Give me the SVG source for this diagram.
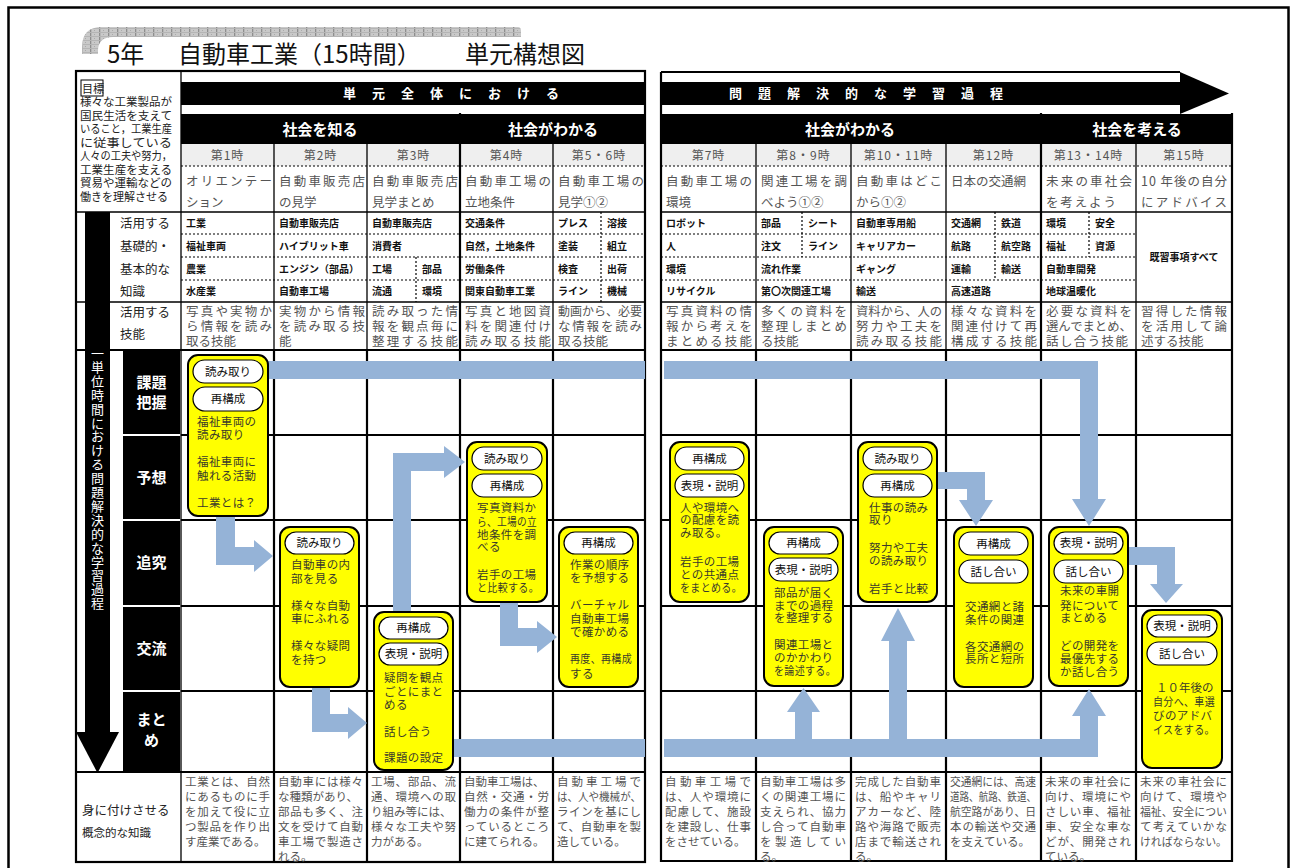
<svg xmlns="http://www.w3.org/2000/svg" width="1297" height="868" viewBox="0 0 1297 868">
<defs>
<pattern id="chk" width="9" height="4" patternUnits="userSpaceOnUse">
<rect width="9" height="4" fill="#c9c9c9"/>
<rect width="1.3" height="4" fill="#8e8e8e"/>
<rect x="4" y="2" width="1" height="1" fill="#aaa"/>
<rect width="9" height="1" fill="#b5b5b5"/>
</pattern>
<style>
text{font-family:"Noto Sans CJK JP","Noto Sans CJK SC",sans-serif;}
.t{font-size:24px;fill:#111}
.hb{font-size:13px;font-weight:bold;fill:#fff;letter-spacing:16px}
.ph{font-size:15px;font-weight:bold;fill:#fff;text-anchor:middle}
.ln{font-size:12px;fill:#555;text-anchor:middle;letter-spacing:1px}
.lt{font-size:12.5px;fill:#555}
.kn{font-size:10px;font-weight:bold;fill:#111}
.sk{font-size:12.5px;fill:#555}
.bt{font-size:11.5px;fill:#555}
.lb{font-size:12.5px;fill:#222}
.ob{font-size:11.5px;fill:#222}
.pr{font-size:15px;font-weight:bold;fill:#fff;text-anchor:middle}
.vt{font-size:13px;fill:#fff;text-anchor:middle}
.node{fill:#ffff00;stroke:#000;stroke-width:2}
.pill{fill:#fff;stroke:#000;stroke-width:1.2}
.pt{font-size:11.5px;fill:#111;text-anchor:middle}
.nt{font-size:11.5px;fill:#3a3a2a;letter-spacing:0.4px}
.g1{stroke:#000;stroke-width:1.3;fill:none}
.g2{stroke:#000;stroke-width:2.2;fill:none}
.dot{stroke:#000;stroke-width:1.2;stroke-dasharray:2 2;fill:none}
.arr{fill:#95b3d7}
</style>
</defs>
<rect width="1297" height="868" fill="#fff"/>
<rect x="8.5" y="7.5" width="1280" height="900" fill="none" stroke="#000" stroke-width="2.5"/>

<!-- title -->
<g id="title">
<path d="M82,54 L82,47 Q82,27 102,27 L518,27 Q521,27 521,31 L521,37 L113,37 Q98,37 98,51 L98,54 Z" fill="url(#chk)"/>
<text class="t" x="107" y="63">5年</text>
<text class="t" x="178" y="63">自動車工業（15時間）</text>
<text class="t" x="465" y="63">単元構想図</text>
</g>

<!-- table fills -->
<g id="table-fills">
<rect x="181" y="82" width="464" height="23" fill="#000"/>
<rect x="661" y="82" width="519" height="23" fill="#000"/>
<polygon points="1180,72 1229,93.5 1180,114" fill="#000"/>
<rect x="181" y="114" width="278" height="30" fill="#000"/>
<rect x="461" y="114" width="184" height="30" fill="#000"/>
<rect x="661" y="114" width="379" height="30" fill="#000"/>
<rect x="1042" y="114" width="190" height="30" fill="#000"/>
<rect x="181" y="144" width="464" height="22" fill="#efefef"/>
<rect x="661" y="144" width="571" height="22" fill="#efefef"/>
<rect x="85" y="212" width="25" height="521" fill="#000"/>
<polygon points="76,732 119,732 97.5,773" fill="#000"/>
<rect x="123" y="351" width="57" height="83" fill="#000"/>
<rect x="123" y="436" width="57" height="83" fill="#000"/>
<rect x="123" y="521" width="57" height="84" fill="#000"/>
<rect x="123" y="607" width="57" height="83" fill="#000"/>
<rect x="123" y="692" width="57" height="80" fill="#000"/>
</g>

<!-- grid lines -->
<g id="grid">
<rect x="76" y="71" width="569" height="791" class="g2"/>
<path class="g2" d="M661,72 H1180 M661,72 V861 H1232 V113"/>
<path class="g1" d="M181,71 V862 M76,212 H645 M76,302 H645 M661,212 H1232 M661,302 H1232"/>
<path class="g2" d="M76,350 H645 M76,772 H645 M661,350 H1232 M661,772 H1232"/>
<path class="g1" d="M274,144 V350 M367,144 V350 M553,144 V350 M756,144 V350 M851,144 V350 M946,144 V350 M1136,144 V350"/>
<path class="g2" d="M460,113 V862 M1041,113 V861 M274,350 V862 M367,350 V862 M553,350 V862 M756,350 V861 M851,350 V861 M946,350 V861 M1136,350 V861"/>
<path class="g2" d="M181,435 H645 M181,520 H645 M181,606 H645 M181,691 H645 M661,435 H1232 M661,520 H1232 M661,606 H1232 M661,691 H1232"/>
<path class="dot" d="M181,166 H645 M661,166 H1232 M181,234 H645 M181,257 H645 M181,280 H645 M661,234 H1136 M661,257 H1136 M661,280 H1136"/>
<path class="dot" d="M416,257 V302 M601,212 V302 M802,212 V257 M995,212 V280 M1089,212 V257"/>
</g>

<!-- left labels -->
<g id="labels">
<rect x="81" y="80" width="22" height="16" fill="none" stroke="#000" stroke-width="1"/>
<text class="ob" x="82" y="93" style="font-size:11px">目標</text>
<text class="ob" x="80" y="106" textLength="92" lengthAdjust="spacingAndGlyphs">様々な工業製品が</text>
<text class="ob" x="80" y="119.5" textLength="92" lengthAdjust="spacingAndGlyphs">国民生活を支えて</text>
<text class="ob" x="80" y="133" textLength="92" lengthAdjust="spacingAndGlyphs">いること，工業生産</text>
<text class="ob" x="80" y="146.5" textLength="92" lengthAdjust="spacingAndGlyphs">に従事している</text>
<text class="ob" x="80" y="160" textLength="92" lengthAdjust="spacingAndGlyphs">人々の工夫や努力，</text>
<text class="ob" x="80" y="173.5" textLength="92" lengthAdjust="spacingAndGlyphs">工業生産を支える</text>
<text class="ob" x="80" y="187" textLength="92" lengthAdjust="spacingAndGlyphs">貿易や運輸などの</text>
<text class="ob" x="80" y="200.5" textLength="88" lengthAdjust="spacingAndGlyphs">働きを理解させる</text>
<text class="lb" x="120" y="228">活用する</text>
<text class="lb" x="120" y="251">基礎的・</text>
<text class="lb" x="120" y="274">基本的な</text>
<text class="lb" x="120" y="296">知識</text>
<text class="lb" x="120" y="317">活用する</text>
<text class="lb" x="120" y="339">技能</text>
<text class="vt" x="97.5 97.5 97.5 97.5 97.5 97.5 97.5 97.5 97.5 97.5 97.5 97.5 97.5 97.5 97.5 97.5 97.5 97.5 97.5" y="358 371.9 385.8 399.7 413.6 427.5 441.4 455.3 469.2 483.1 497 510.9 524.8 538.7 552.6 566.5 580.4 594.3 608.2">一単位時間における問題解決的な学習過程</text>
<text class="pr" x="151.5" y="388">課題</text>
<text class="pr" x="151.5" y="408">把握</text>
<text class="pr" x="151.5" y="483">予想</text>
<text class="pr" x="151.5" y="568">追究</text>
<text class="pr" x="151.5" y="654">交流</text>
<text class="pr" x="151.5" y="725">まと</text>
<text class="pr" x="151.5" y="746">め</text>
<text class="lb" x="82" y="815">身に付けさせる</text>
<text class="lb" x="82" y="837" style="font-size:11.5px">概念的な知識</text>
</g>

<!-- headers -->
<g id="headers">
<text class="hb" x="343" y="98">単元全体における</text>
<text class="hb" x="729" y="98">問題解決的な学習過程</text>
<text class="ph" x="320" y="135">社会を知る</text>
<text class="ph" x="553" y="135">社会がわかる</text>
<text class="ph" x="850" y="135">社会がわかる</text>
<text class="ph" x="1137" y="135">社会を考える</text>
<text class="ln" x="227.5" y="160">第1時</text>
<text class="ln" x="320.5" y="160">第2時</text>
<text class="ln" x="413.5" y="160">第3時</text>
<text class="ln" x="506.5" y="160">第4時</text>
<text class="ln" x="599" y="160">第5・6時</text>
<text class="ln" x="708.5" y="160">第7時</text>
<text class="ln" x="803.5" y="160">第8・9時</text>
<text class="ln" x="898.5" y="160">第10・11時</text>
<text class="ln" x="993.5" y="160">第12時</text>
<text class="ln" x="1088.5" y="160">第13・14時</text>
<text class="ln" x="1184" y="160">第15時</text>
<text class="lt" x="186" y="186" textLength="86">オリエンテー</text>
<text class="lt" x="186" y="207">ション</text>
<text class="lt" x="279" y="186" textLength="86">自動車販売店</text>
<text class="lt" x="279" y="207">の見学</text>
<text class="lt" x="372" y="186" textLength="86">自動車販売店</text>
<text class="lt" x="372" y="207">見学まとめ</text>
<text class="lt" x="465" y="186" textLength="86">自動車工場の</text>
<text class="lt" x="465" y="207">立地条件</text>
<text class="lt" x="558" y="186" textLength="86">自動車工場の</text>
<text class="lt" x="558" y="207">見学①②</text>
<text class="lt" x="666" y="186" textLength="86">自動車工場の</text>
<text class="lt" x="666" y="207">環境</text>
<text class="lt" x="761" y="186" textLength="86">関連工場を調</text>
<text class="lt" x="761" y="207">べよう①②</text>
<text class="lt" x="856" y="186" textLength="86">自動車はどこ</text>
<text class="lt" x="856" y="207">から①②</text>
<text class="lt" x="951" y="186">日本の交通網</text>
<text class="lt" x="1046" y="186" textLength="86">未来の車社会</text>
<text class="lt" x="1046" y="207" textLength="70">を考えよう</text>
<text class="lt" x="1141" y="186" textLength="86">10 年後の自分</text>
<text class="lt" x="1141" y="207" textLength="86">にアドバイス</text>
</g>

<!-- knowledge -->
<g id="knowledge">
<text class="kn" x="186" y="227">工業</text>
<text class="kn" x="186" y="250">福祉車両</text>
<text class="kn" x="186" y="273">農業</text>
<text class="kn" x="186" y="295">水産業</text>
<text class="kn" x="279" y="227">自動車販売店</text>
<text class="kn" x="279" y="250">ハイブリット車</text>
<text class="kn" x="279" y="273">エンジン（部品）</text>
<text class="kn" x="279" y="295">自動車工場</text>
<text class="kn" x="372" y="227">自動車販売店</text>
<text class="kn" x="372" y="250">消費者</text>
<text class="kn" x="372" y="273">工場</text>
<text class="kn" x="422" y="273">部品</text>
<text class="kn" x="372" y="295">流通</text>
<text class="kn" x="422" y="295">環境</text>
<text class="kn" x="465" y="227">交通条件</text>
<text class="kn" x="465" y="250">自然，土地条件</text>
<text class="kn" x="465" y="273">労働条件</text>
<text class="kn" x="465" y="295">関東自動車工業</text>
<text class="kn" x="558" y="227">プレス</text>
<text class="kn" x="607" y="227">溶接</text>
<text class="kn" x="558" y="250">塗装</text>
<text class="kn" x="607" y="250">組立</text>
<text class="kn" x="558" y="273">検査</text>
<text class="kn" x="607" y="273">出荷</text>
<text class="kn" x="558" y="295">ライン</text>
<text class="kn" x="607" y="295">機械</text>
<text class="kn" x="666" y="227">ロボット</text>
<text class="kn" x="666" y="250">人</text>
<text class="kn" x="666" y="273">環境</text>
<text class="kn" x="666" y="295">リサイクル</text>
<text class="kn" x="761" y="227">部品</text>
<text class="kn" x="808" y="227">シート</text>
<text class="kn" x="761" y="250">注文</text>
<text class="kn" x="808" y="250">ライン</text>
<text class="kn" x="761" y="273">流れ作業</text>
<text class="kn" x="761" y="295">第〇次関連工場</text>
<text class="kn" x="856" y="227">自動車専用船</text>
<text class="kn" x="856" y="250">キャリアカー</text>
<text class="kn" x="856" y="273">ギャング</text>
<text class="kn" x="856" y="295">輸送</text>
<text class="kn" x="951" y="227">交通網</text>
<text class="kn" x="1001" y="227">鉄道</text>
<text class="kn" x="951" y="250">航路</text>
<text class="kn" x="1001" y="250">航空路</text>
<text class="kn" x="951" y="273">運輸</text>
<text class="kn" x="1001" y="273">輸送</text>
<text class="kn" x="951" y="295">高速道路</text>
<text class="kn" x="1046" y="227">環境</text>
<text class="kn" x="1095" y="227">安全</text>
<text class="kn" x="1046" y="250">福祉</text>
<text class="kn" x="1095" y="250">資源</text>
<text class="kn" x="1046" y="273">自動車開発</text>
<text class="kn" x="1046" y="295">地球温暖化</text>
<text class="kn" x="1184" y="261" text-anchor="middle">既習事項すべて</text>
</g>

<!-- skills -->
<g id="skills">
<text class="sk" x="186" y="316" textLength="86">写真や実物か</text>
<text class="sk" x="186" y="331" textLength="86">ら情報を読み</text>
<text class="sk" x="186" y="346">取る技能</text>
<text class="sk" x="279" y="316" textLength="86">実物から情報</text>
<text class="sk" x="279" y="331" textLength="86">を読み取る技</text>
<text class="sk" x="279" y="346">能</text>
<text class="sk" x="372" y="316" textLength="86">読み取った情</text>
<text class="sk" x="372" y="331" textLength="86">報を観点毎に</text>
<text class="sk" x="372" y="346" textLength="86">整理する技能</text>
<text class="sk" x="465" y="316" textLength="86">写真と地図資</text>
<text class="sk" x="465" y="331" textLength="86">料を関連付け</text>
<text class="sk" x="465" y="346" textLength="86">読み取る技能</text>
<text class="sk" x="558" y="316" textLength="84" lengthAdjust="spacingAndGlyphs">動画から、必要</text>
<text class="sk" x="558" y="331" textLength="84">な情報を読み</text>
<text class="sk" x="558" y="346">取る技能</text>
<text class="sk" x="666" y="316" textLength="86">写真資料の情</text>
<text class="sk" x="666" y="331" textLength="86">報から考えを</text>
<text class="sk" x="666" y="346" textLength="86">まとめる技能</text>
<text class="sk" x="761" y="316" textLength="86">多くの資料を</text>
<text class="sk" x="761" y="331" textLength="86">整理しまとめ</text>
<text class="sk" x="761" y="346">る技能</text>
<text class="sk" x="856" y="316" textLength="86" lengthAdjust="spacingAndGlyphs">資料から、人の</text>
<text class="sk" x="856" y="331" textLength="86">努力や工夫を</text>
<text class="sk" x="856" y="346" textLength="86">読み取る技能</text>
<text class="sk" x="951" y="316" textLength="86">様々な資料を</text>
<text class="sk" x="951" y="331" textLength="86">関連付けて再</text>
<text class="sk" x="951" y="346" textLength="86">構成する技能</text>
<text class="sk" x="1046" y="316" textLength="86">必要な資料を</text>
<text class="sk" x="1046" y="331" textLength="86" lengthAdjust="spacingAndGlyphs">選んでまとめ、</text>
<text class="sk" x="1046" y="346" textLength="82">話し合う技能</text>
<text class="sk" x="1141" y="316" textLength="86">習得した情報</text>
<text class="sk" x="1141" y="331" textLength="86">を活用して論</text>
<text class="sk" x="1141" y="346">述する技能</text>
</g>

<!-- concepts -->
<g id="concepts">
<text class="bt" x="185" y="786" textLength="85">工業とは、自然</text>
<text class="bt" x="185" y="801" textLength="85">にあるものに手</text>
<text class="bt" x="185" y="816" textLength="85">を加えて役に立</text>
<text class="bt" x="185" y="831" textLength="85">つ製品を作り出</text>
<text class="bt" x="185" y="846">す産業である。</text>
<text class="bt" x="278" y="786" textLength="85">自動車には様々</text>
<text class="bt" x="278" y="801">な種類があり、</text>
<text class="bt" x="278" y="816" textLength="85">部品も多く、注</text>
<text class="bt" x="278" y="831" textLength="85">文を受けて自動</text>
<text class="bt" x="278" y="846" textLength="85">車工場で製造さ</text>
<text class="bt" x="278" y="861">れる。</text>
<text class="bt" x="371" y="786" textLength="85">工場、部品、流</text>
<text class="bt" x="371" y="801" textLength="85">通、環境への取</text>
<text class="bt" x="371" y="816">り組み等には、</text>
<text class="bt" x="371" y="831" textLength="85">様々な工夫や努</text>
<text class="bt" x="371" y="846">力がある。</text>
<text class="bt" x="464" y="786">自動車工場は、</text>
<text class="bt" x="464" y="801" textLength="85">自然・交通・労</text>
<text class="bt" x="464" y="816" textLength="85">働力の条件が整</text>
<text class="bt" x="464" y="831" textLength="85">っているところ</text>
<text class="bt" x="464" y="846">に建てられる。</text>
<text class="bt" x="557" y="786" textLength="84">自動車工場で</text>
<text class="bt" x="557" y="801" textLength="84" lengthAdjust="spacingAndGlyphs">は、人や機械が、</text>
<text class="bt" x="557" y="816" textLength="84">ラインを基にし</text>
<text class="bt" x="557" y="831" textLength="84">て、自動車を製</text>
<text class="bt" x="557" y="846">造している。</text>
<text class="bt" x="665" y="786" textLength="86">自動車工場で</text>
<text class="bt" x="665" y="801" textLength="86">は、人や環境に</text>
<text class="bt" x="665" y="816" textLength="86">配慮して、施設</text>
<text class="bt" x="665" y="831" textLength="86">を建設し、仕事</text>
<text class="bt" x="665" y="846">をさせている。</text>
<text class="bt" x="760" y="786" textLength="86">自動車工場は多</text>
<text class="bt" x="760" y="801" textLength="86">くの関連工場に</text>
<text class="bt" x="760" y="816" textLength="86">支えられ、協力</text>
<text class="bt" x="760" y="831" textLength="86">し合って自動車</text>
<text class="bt" x="760" y="846" textLength="86">を製造してい</text>
<text class="bt" x="760" y="861">る。</text>
<text class="bt" x="855" y="786" textLength="86">完成した自動車</text>
<text class="bt" x="855" y="801" textLength="86">は、船やキャリ</text>
<text class="bt" x="855" y="816" textLength="86">アカーなど、陸</text>
<text class="bt" x="855" y="831" textLength="86">路や海路で販売</text>
<text class="bt" x="855" y="846" textLength="86">店まで輸送され</text>
<text class="bt" x="855" y="861">る。</text>
<text class="bt" x="950" y="786" textLength="86" lengthAdjust="spacingAndGlyphs">交通網には、高速</text>
<text class="bt" x="950" y="801" textLength="86" lengthAdjust="spacingAndGlyphs">道路、航路、鉄道、</text>
<text class="bt" x="950" y="816" textLength="86" lengthAdjust="spacingAndGlyphs">航空路があり、日</text>
<text class="bt" x="950" y="831" textLength="86">本の輸送や交通</text>
<text class="bt" x="950" y="846">を支えている。</text>
<text class="bt" x="1045" y="786" textLength="86">未来の車社会に</text>
<text class="bt" x="1045" y="801" textLength="86">向け、環境にや</text>
<text class="bt" x="1045" y="816" textLength="86">さしい車、福祉</text>
<text class="bt" x="1045" y="831" textLength="86">車、安全な車な</text>
<text class="bt" x="1045" y="846" textLength="86">どが、開発され</text>
<text class="bt" x="1045" y="861">ている。</text>
<text class="bt" x="1140" y="786" textLength="87">未来の車社会に</text>
<text class="bt" x="1140" y="801" textLength="87">向けて、環境や</text>
<text class="bt" x="1140" y="816" textLength="87" lengthAdjust="spacingAndGlyphs">福祉、安全につい</text>
<text class="bt" x="1140" y="831" textLength="87">て考えていかな</text>
<text class="bt" x="1140" y="846" textLength="87" lengthAdjust="spacingAndGlyphs">ければならない。</text>
</g>

<!-- connectors -->
<g id="connectors" class="arr">
<rect x="267" y="361" width="378" height="18"/>
<polygon points="664,361 1098,361 1098,499 1106,499 1089,526 1072,499 1080,499 1080,379 664,379"/>
<polygon points="216,515 235,515 235,547 254,547 254,540 273,556 254,572 254,565 216,565"/>
<polygon points="312,686 330,686 330,714 348,714 348,707 367,723 348,739 348,732 312,732"/>
<polygon points="393,613 393,453 444,453 444,446 465,462 444,478 444,471 411,471 411,613"/>
<rect x="452" y="739" width="193" height="18"/>
<polygon points="664,739 1080,739 1080,716 1072,716 1089,689 1106,716 1098,716 1098,757 664,757"/>
<polygon points="795,740 795,712 787,712 803.5,688 820,712 812,712 812,740"/>
<polygon points="889,740 889,641 881,641 898,608 915,641 907,641 907,740"/>
<polygon points="500,601 518,601 518,628 537,628 537,621 557,637 537,653 537,646 500,646"/>
<polygon points="936,472 985,472 985,500 993,500 976,526 959,500 967,500 967,489 936,489"/>
<polygon points="1127,547 1175,547 1175,584 1183,584 1166,603 1150,584 1157,584 1157,565 1127,565"/>
</g>

<!-- nodes -->
<g id="n1">
<rect class="node" x="188" y="355" width="80" height="161" rx="10"/>
<rect class="pill" x="193" y="360" width="70" height="23" rx="11.5"/>
<text class="pt" x="228" y="376">読み取り</text>
<rect class="pill" x="193" y="387" width="70" height="24" rx="12"/>
<text class="pt" x="228" y="403">再構成</text>
<text class="nt" x="197" y="426">福祉車両の</text>
<text class="nt" x="197" y="439">読み取り</text>
<text class="nt" x="197" y="466">福祉車両に</text>
<text class="nt" x="197" y="480">触れる活動</text>
<text class="nt" x="197" y="507">工業とは？</text>
</g>
<g id="n2">
<rect class="node" x="280" y="527" width="79" height="160" rx="10"/>
<rect class="pill" x="285" y="532" width="69" height="22" rx="11"/>
<text class="pt" x="319.5" y="547">読み取り</text>
<text class="nt" x="291" y="569">自動車の内</text>
<text class="nt" x="291" y="583">部を見る</text>
<text class="nt" x="291" y="610">様々な自動</text>
<text class="nt" x="291" y="623">車にふれる</text>
<text class="nt" x="291" y="650">様々な疑問</text>
<text class="nt" x="291" y="664">を持つ</text>
</g>
<g id="n3">
<rect class="node" x="374" y="612" width="79" height="158" rx="10"/>
<rect class="pill" x="379" y="617" width="69" height="22" rx="11"/>
<text class="pt" x="413.5" y="632">再構成</text>
<rect class="pill" x="379" y="643" width="69" height="22" rx="11"/>
<text class="pt" x="413.5" y="658">表現・説明</text>
<text class="nt" x="384" y="682">疑問を観点</text>
<text class="nt" x="384" y="696">ごとにまと</text>
<text class="nt" x="384" y="709">める</text>
<text class="nt" x="384" y="736">話し合う</text>
<text class="nt" x="384" y="762">課題の設定</text>
</g>
<g id="n4">
<rect class="node" x="467" y="442" width="80" height="160" rx="10"/>
<rect class="pill" x="472" y="447" width="70" height="23" rx="11.5"/>
<text class="pt" x="507" y="463">読み取り</text>
<rect class="pill" x="472" y="474" width="70" height="23" rx="11.5"/>
<text class="pt" x="507" y="490">再構成</text>
<text class="nt" x="477" y="512">写真資料か</text>
<text class="nt" x="477" y="526" textLength="60" lengthAdjust="spacingAndGlyphs">ら、工場の立</text>
<text class="nt" x="477" y="539">地条件を調</text>
<text class="nt" x="477" y="551">べる</text>
<text class="nt" x="477" y="579">岩手の工場</text>
<text class="nt" x="477" y="592" textLength="62" lengthAdjust="spacingAndGlyphs">と比較する。</text>
</g>
<g id="n5">
<rect class="node" x="559" y="527" width="79" height="160" rx="10"/>
<rect class="pill" x="564" y="532" width="69" height="22" rx="11"/>
<text class="pt" x="598.5" y="547">再構成</text>
<text class="nt" x="570" y="569">作業の順序</text>
<text class="nt" x="570" y="582">を予想する</text>
<text class="nt" x="570" y="609">バーチャル</text>
<text class="nt" x="570" y="623">自動車工場</text>
<text class="nt" x="570" y="636">で確かめる</text>
<text class="nt" x="570" y="663" textLength="62" lengthAdjust="spacingAndGlyphs">再度、再構成</text>
<text class="nt" x="570" y="678">する</text>
</g>
<g id="n6">
<rect class="node" x="670" y="442" width="79" height="160" rx="10"/>
<rect class="pill" x="675" y="447" width="69" height="23" rx="11.5"/>
<text class="pt" x="709.5" y="463">再構成</text>
<rect class="pill" x="675" y="474" width="69" height="23" rx="11.5"/>
<text class="pt" x="709.5" y="490">表現・説明</text>
<text class="nt" x="680" y="512">人や環境へ</text>
<text class="nt" x="680" y="524">の配慮を読</text>
<text class="nt" x="680" y="537">み取る。</text>
<text class="nt" x="680" y="566">岩手の工場</text>
<text class="nt" x="680" y="579">との共通点</text>
<text class="nt" x="680" y="592" textLength="62" lengthAdjust="spacingAndGlyphs">をまとめる。</text>
</g>
<g id="n7">
<rect class="node" x="764" y="527" width="79" height="159" rx="10"/>
<rect class="pill" x="769" y="532" width="69" height="22" rx="11"/>
<text class="pt" x="803.5" y="547">再構成</text>
<rect class="pill" x="769" y="558" width="69" height="23" rx="11.5"/>
<text class="pt" x="803.5" y="574">表現・説明</text>
<text class="nt" x="774" y="597">部品が届く</text>
<text class="nt" x="774" y="610">までの過程</text>
<text class="nt" x="774" y="622">を整理する</text>
<text class="nt" x="774" y="649">関連工場と</text>
<text class="nt" x="774" y="662">のかかわり</text>
<text class="nt" x="774" y="675" textLength="62" lengthAdjust="spacingAndGlyphs">を論述する。</text>
</g>
<g id="n8">
<rect class="node" x="858" y="442" width="79" height="160" rx="10"/>
<rect class="pill" x="863" y="447" width="69" height="23" rx="11.5"/>
<text class="pt" x="897.5" y="463">読み取り</text>
<rect class="pill" x="863" y="474" width="69" height="23" rx="11.5"/>
<text class="pt" x="897.5" y="490">再構成</text>
<text class="nt" x="869" y="512">仕事の読み</text>
<text class="nt" x="869" y="524">取り</text>
<text class="nt" x="869" y="552">努力や工夫</text>
<text class="nt" x="869" y="565">の読み取り</text>
<text class="nt" x="869" y="593">岩手と比較</text>
</g>
<g id="n9">
<rect class="node" x="954" y="527" width="79" height="160" rx="10"/>
<rect class="pill" x="959" y="532" width="69" height="23" rx="11.5"/>
<text class="pt" x="993.5" y="548">再構成</text>
<rect class="pill" x="959" y="560" width="69" height="23" rx="11.5"/>
<text class="pt" x="993.5" y="576">話し合い</text>
<text class="nt" x="965" y="611">交通網と諸</text>
<text class="nt" x="965" y="624">条件の関連</text>
<text class="nt" x="965" y="651">各交通網の</text>
<text class="nt" x="965" y="663">長所と短所</text>
</g>
<g id="n10">
<rect class="node" x="1049" y="527" width="79" height="159" rx="10"/>
<rect class="pill" x="1054" y="532" width="69" height="22" rx="11"/>
<text class="pt" x="1088.5" y="547">表現・説明</text>
<rect class="pill" x="1054" y="560" width="69" height="23" rx="11.5"/>
<text class="pt" x="1088.5" y="576">話し合い</text>
<text class="nt" x="1060" y="595">未来の車開</text>
<text class="nt" x="1060" y="610">発について</text>
<text class="nt" x="1060" y="622">まとめる</text>
<text class="nt" x="1060" y="650">どの開発を</text>
<text class="nt" x="1060" y="663">最優先する</text>
<text class="nt" x="1060" y="676">か話し合う</text>
</g>
<g id="n11">
<rect class="node" x="1142" y="610" width="80" height="158" rx="10"/>
<rect class="pill" x="1147" y="615" width="70" height="22" rx="11"/>
<text class="pt" x="1182" y="630">表現・説明</text>
<rect class="pill" x="1147" y="642" width="70" height="23" rx="11.5"/>
<text class="pt" x="1182" y="658">話し合い</text>
<text class="nt" x="1156" y="692" textLength="58">１０年後の</text>
<text class="nt" x="1153" y="706" textLength="62" lengthAdjust="spacingAndGlyphs">自分へ、車選</text>
<text class="nt" x="1153" y="720">びのアドバ</text>
<text class="nt" x="1153" y="734" textLength="62" lengthAdjust="spacingAndGlyphs">イスをする。</text>
</g>
</svg>
